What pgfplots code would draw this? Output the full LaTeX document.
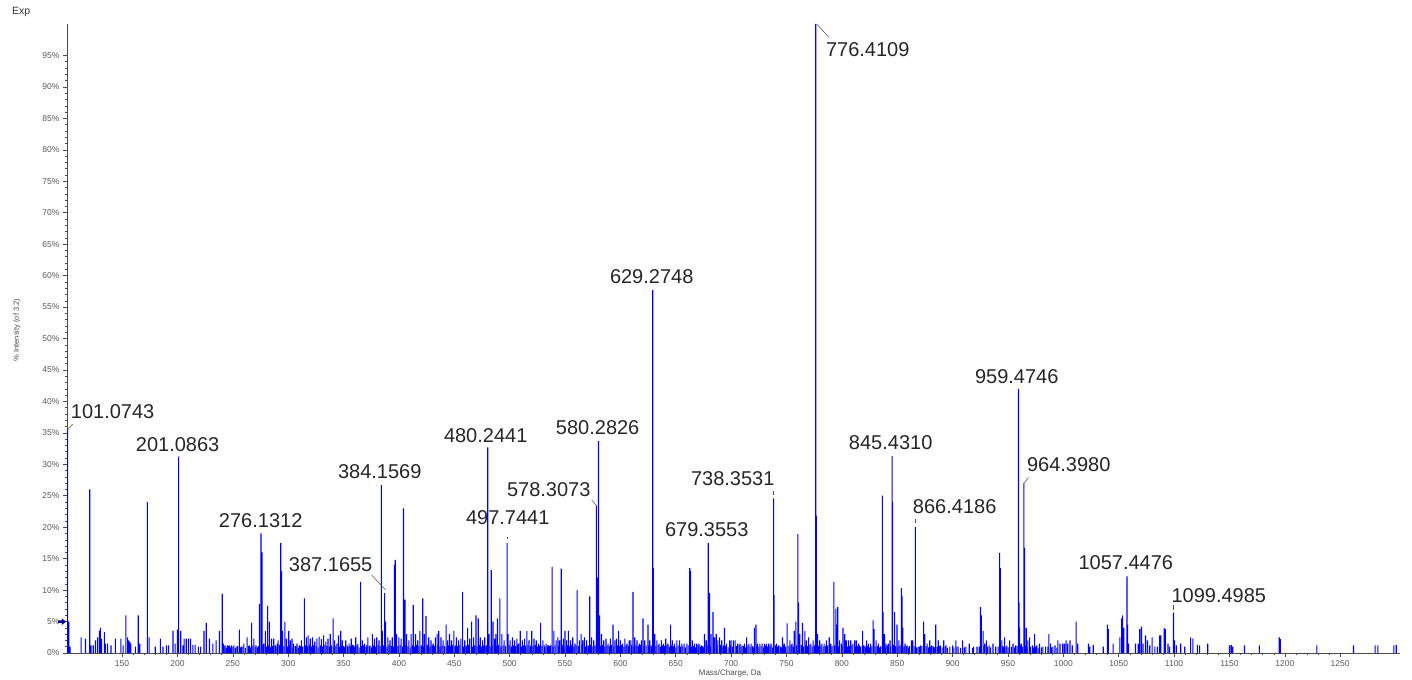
\documentclass[border=0pt]{standalone}
\usepackage{pgfplots}
\pgfplotsset{compat=1.18}
\usepackage{pgfplotstable}
\usepackage{fontspec}
\setmainfont{Liberation Sans}
\definecolor{specblue}{RGB}{0,0,255}
\pgfplotstableread{
m y
100.9 35.5
102 5
103 1
113 2.5
117 2.3
120.8 26
122 1.2
124 1.2
126 2
128 2.5
129.5 3.5
130.5 4
131.5 2.3
134 3.3
135 1.5
137 1.5
140 1.2
144 2.3
149 2.3
151 1.2
153.5 6
155 2.5
156 2
157 1.8
158 1.5
162 1
164.6 6
166 1.5
172.9 24
174.5 2.5
180 1
184.6 2.3
187 1
190 1.2
192 1.2
196 3.5
198 1.5
200 3.7
201.09 31.2
203 3.5
205 1.2
206 2.3
208 2.3
210 2.3
212 2.3
214 1.3
216 1.3
219 1
221 1
224 3.5
226 4.8
229 2.3
232 1.5
235 2
238 3.5
240.5 9.4
241.5 1.5
243 1.2
245 1.2
247 1.2
249 1.2
251 1.2
253 1
256 3.7
258 1
260 1.5
263 2.5
265 1.2
267 4.8
269 2.3
271 1.2
274 7.8
275.5 19
276.4 16
278 1.5
279.5 3.5
281.5 7.5
283 5
285 2.3
287 2.3
288.5 1.2
290 1.5
291 2
293.3 17.5
294 13
295 3.5
297 5
298.5 2.3
300.5 3.5
302 2
303.5 2.3
305 1.5
308 1.5
310 1.2
312 2
314.6 8.7
316.5 2.5
318 2.8
320 2.3
322 2.5
324 1.8
326 2.3
328 2.6
330 2.2
332 2.8
334 1.8
336 2.3
338 3
340.6 5.5
342 2
344 1.5
345.5 2.8
347.5 3.5
349 2
352 2
355 1.5
357 2.3
359 1.2
361 2.5
363 1.5
365.4 11.3
367 2
369 1.5
372 2.5
374 1.2
376 3
378 2.3
380 2.5
382 2
384.16 26.7
385 3.5
387.17 9.5
388 5
390 2.5
392 2
394 2.5
396 14
396.7 14.8
398 3
400 2.5
402 2.3
404.2 23
405.5 8.5
407 3
409 2
411 3
413 7.6
415 3
417 2
419 3.5
421.5 8.7
423 3
424.5 5.9
427 2.5
429 2
431 1.5
433 2.5
434.5 3
436 3.5
438 2.5
440 2
442.7 4.5
444 2
445.7 3
447.5 2
449.6 3.5
452 2.5
454 2
456 2.3
457.6 9.7
459.5 2
462 4
464 2.3
465.7 5
467.5 2.5
469.6 6
471.7 5.5
473.5 2.5
475.6 2
477.5 2.5
480.24 32.7
481.5 3
483.4 13.2
485 5
486.5 2.3
487.6 3
489 5.5
491.2 8.7
493 3
495 2
497.74 17.5
498.7 3
500.5 2
502.6 2.5
504.5 2
506.5 2.3
508 1.5
509.6 3.5
511.5 2
513.5 2.3
515.6 3.5
517.5 2
520 3.5
522 2.3
524 2
526 1.5
528 4.8
530 2
533 1.5
535 1.2
538.4 13.7
540 3.5
542 2
543.6 2.5
545 2
546.6 13.4
548.5 2.3
550 3.5
551.5 2
553 3.5
555 2
557 2.5
559 1.5
561 10
563 2
564.6 3
566 2
567.6 2.5
569.5 2
572.3 9
574 2.5
576 2
578.31 23.4
579.2 12
580.28 33.7
581.3 6
583 3
585 2
587 2.3
589 1.5
591 2.3
593.3 4.5
595 2
596.5 2.3
598.4 3.5
600 2
602 1.5
604 2.3
606 1.5
608 2
609.5 2
611.4 9.7
613 2.5
615 2
617 1.5
619 2
620.4 5.5
622 2
624.9 4.5
626.5 2
629.27 57.7
629.8 13.5
631 3
633 2
635 1.5
637 2
639 1.5
641 2.3
643 1.5
645.4 4.5
647 2
649 1.5
651 2
653.5 2
655.5 1.5
657.5 1.5
660 1.5
662.6 13.5
663.5 13
665 2
667 1.5
669 1.5
671 1.5
673 1.2
676 3
677.5 2
679.36 17.5
680.5 9.5
682 3
683.6 6.5
685 2.5
686.6 3
688 2
689.6 2.5
691.5 2
694 4
696 1.5
698.6 2
700 2
702 2
703.6 2
706 1.5
708 1.5
710 1.2
712 1.5
714 2.5
716 1.5
718 1.5
721 4
722.5 4.5
724 1.5
726 1.5
728 1.5
730 1.5
732 1.5
734 1.5
736 1.5
738.35 24.6
738.9 9.2
741 1.5
743 1.2
746.4 2.5
748 1.5
750.6 4.7
753 2
755 1.5
757 3.5
758.5 5
760.3 18.9
760.9 8
762 3
764.5 4.8
766.6 3.5
768 2
770 2.5
772 1.5
774 2
776.41 100
776.9 21.8
778 3
780 2
782 1.5
784 1.5
786 2
788.6 2.5
790 1.5
792.8 11.3
794.6 7
795.5 4.5
796.3 7.3
798 2
799.5 1.5
801 4
802.6 3
804 2
806 2
808 2
810 1.5
811.5 2
813 2
815 1.5
818.7 3.5
820 1.2
822.3 2
824 1.5
826 1.5
828.3 5.2
829.2 3.8
831 2
833 1.5
836.6 25
837.2 6.5
838.5 3
840 1.5
842 1.5
843.5 2
845.43 31.3
845.9 24
847.7 6.5
849.8 4.5
851.5 2
853.7 10.3
854.3 9
855 4
857 1.5
859 1.2
862.8 2
864 2
866.42 20
868.8 1
871 1.2
873.9 5
875 3
877 1.5
879.4 2
881 1.2
884.8 4.5
887 2
889 1.2
892 2
894 1.2
897.5 1
900 1.2
902.9 2
905 1
909 2
912 1
915 1.5
919 1
922 1
925.2 7.3
926 6
927.5 3.5
929 1.5
930.5 2
933 1.2
936.5 1.5
939 1
942.5 15.9
943 13.5
944.5 2
947 2.5
949 1.2
951.5 2
954.5 1.5
957 1.2
959.47 42
960 8
960.5 4
962 1.5
964.40 27
964.9 16.7
966.5 4
968 2
969.5 2.5
972 1.2
974 3
976 1.2
978.5 1.5
981.5 1
984 1
987 3
988.5 1.5
990.5 1
992.5 1.2
995 2
997 1.5
999.5 1.5
1001 1.5
1002.5 2
1004 1.5
1006 2
1008 1.2
1011.5 5
1013 1.5
1022.7 1.5
1024 1
1027 1.3
1036 1
1039.7 4.5
1040.6 3.8
1045 1.5
1051 2.5
1052.6 5.5
1053.5 6
1054.7 4
1057.45 12.2
1057.9 4.5
1059 1.5
1065.2 1.5
1067.6 1.5
1069 3.8
1070.6 4.2
1072 1.5
1074.2 2.8
1076 2
1078 1.2
1080.2 2.5
1082.6 1
1085 1
1087 2.8
1088 2.8
1091 4
1092 3.8
1094.5 1.5
1096 1
1099.50 6.4
1100.5 2
1102 1.2
1106 1.5
1109.6 1
1115 2.5
1117 2.3
1121 1.3
1123 1.2
1130.4 1.5
1150 1.2
1151.6 1.3
1153 1
1163.6 1.2
1177 1.2
1195 2.5
1196 2.2
1229 1.2
1262 1.2
1281.6 1.2
1284 1.2
1298.5 1.2
1300.6 1.3
}\peaks
\begin{document}
\begin{tikzpicture}
\useasboundingbox (-67bp,-27bp) rectangle (1345bp,653bp);
\begin{axis}[
  at={(0,0)}, anchor=south west,
  width=1333bp, height=629bp, scale only axis,
  xmin=100.3, xmax=1304, ymin=0, ymax=100,
  axis x line*=bottom, axis y line*=left,
  axis line style={draw=black!70, line width=0.6bp},
  xtick={150,200,...,1250}, ytick={0,5,...,95},
  minor x tick num=4, minor y tick num=4,
  tick align=outside, major tick length=4bp, minor tick length=2bp,
  tick style={draw=black!70, line width=0.5bp},
  ticklabel style={font=\fontsize{8.5bp}{10bp}\selectfont, text=black!65},
  /pgf/number format/assume math mode=true,
  /pgf/number format/1000 sep={},
  yticklabel={\pgfmathprintnumber{\tick}\%},
  clip=false,
  ybar, bar width=1.1bp, bar shift=0pt,
]
% dense low-level baseline
\addplot[ybar, fill=specblue, draw=none, bar width=1.1bp, bar shift=0pt] coordinates {
(242.2,1.0) (244.1,0.8) (246.3,1.1) (248.2,0.9) (250.1,1.0) (252.2,0.8) (254.5,1.1) (257.2,0.9) (259.1,1.0) (261.4,0.8)
(264.1,1.1) (266.2,0.9) (268.1,1.2) (270.2,1.0) (272.3,0.9) (273.2,1.1) (277.2,1.3) (280.3,1.0) (282.3,1.2) (284.1,0.9)
(286.1,1.1) (289.2,1.0) (292.2,1.3) (296.2,1.1) (299.4,1.0) (301.2,1.2) (304.2,0.9) (306.4,1.1) (307.2,1.0) (309.2,0.8)
(311.1,1.1) (313.2,1.0) (315.4,1.2) (317.3,1.1) (319.2,1.3) (321.2,1.0) (323.1,1.2) (325.2,1.1) (327.1,0.9) (329.2,1.2)
(331.1,1.0) (333.2,1.3) (335.1,1.1) (337.2,1.0) (339.3,1.2) (341.4,0.9) (343.1,1.1) (346.4,1.0) (348.2,1.2) (350.2,1.1)
(351.2,0.9) (353.2,1.2) (354.2,1.0) (356.1,1.1) (358.2,1.3) (360.1,1.0) (362.2,1.2) (364.1,0.9) (366.2,1.1) (368.2,1.2)
(370.3,1.0) (371.2,1.3) (373.2,1.1) (375.1,0.9) (377.2,1.2) (379.1,1.0) (381.2,1.3) (383.1,1.1) (386.2,1.2) (389.1,1.0)
(391.1,1.3) (393.1,1.1) (395.1,1.0) (397.5,1.2) (399.2,1.1) (401.1,1.3) (403.1,1.0) (406.4,1.2) (408.1,1.1) (410.1,0.9)
(412.1,1.2) (414.1,1.0) (416.1,1.3) (418.1,1.1) (420.2,1.2) (422.3,1.0) (425.6,1.3) (426.2,1.1) (428.1,1.0) (430.1,1.2)
(432.1,1.1) (435.3,1.3) (437.1,1.0) (439.1,1.2) (441.2,1.1) (443.4,0.9) (445.0,1.2) (446.6,1.1) (448.5,1.3) (450.7,1.0)
(451.2,1.2) (453.1,1.1) (455.1,1.3) (458.6,1.0) (460.5,1.2) (461.2,1.1) (463.1,1.3) (466.6,1.0) (468.5,1.2) (470.6,1.1)
(472.6,1.3) (474.5,1.0) (476.6,1.2) (478.6,1.1) (479.4,1.3) (482.4,1.0) (484.2,1.2) (488.3,1.1) (490.1,1.3) (492.2,1.0)
(494.1,1.2) (496.1,1.1) (499.6,1.3) (501.5,1.0) (503.5,1.2) (505.5,1.1) (507.2,1.3) (510.5,1.0) (512.5,1.2) (514.5,1.1)
(516.5,1.3) (518.5,1.0) (519.2,1.2) (521.1,1.1) (523.1,1.3) (525.1,1.0) (527.1,1.2) (529.1,1.1) (531.1,1.3) (532.1,1.0)
(534.1,1.2) (536.1,1.1) (537.2,1.3) (539.2,1.0) (541.1,1.2) (544.3,1.1) (547.5,1.3) (549.2,1.0) (552.3,1.2) (554.1,1.1)
(556.1,1.3) (558.1,1.0) (560.1,1.2) (562.1,1.1) (565.3,1.3) (568.5,1.0) (570.6,1.2) (571.3,1.1) (573.2,1.3) (575.1,1.0)
(577.1,1.2) (582.1,1.1) (584.1,1.3) (586.1,1.0) (588.1,1.2) (590.1,1.1) (592.1,1.3) (594.1,1.0) (597.4,1.2) (599.2,1.1)
(601.1,1.3) (603.1,1.0) (605.1,1.2) (607.1,1.1) (610.3,1.3) (612.2,1.0) (614.1,1.2) (616.1,1.1) (618.1,1.3) (621.2,1.0)
(623.2,1.2) (625.6,1.1) (627.5,1.3) (628.2,1.0) (630.4,1.2) (632.1,1.1) (634.1,1.3) (636.1,1.0) (638.1,1.2) (640.1,1.1)
(642.1,1.3) (644.2,1.0) (646.2,1.2) (648.1,1.1) (650.1,0.9) (652.2,1.2) (654.5,1.0) (656.5,1.1) (658.6,0.9) (661.2,1.2)
(664.3,1.0) (666.1,1.1) (668.1,0.9) (670.1,1.2) (672.1,1.0) (674.2,1.1) (675.1,0.9) (678.2,1.3) (681.3,1.0) (684.4,1.2)
(687.3,1.1) (690.6,1.3) (692.5,1.0) (693.2,1.2) (695.1,1.1) (697.3,0.9) (699.3,1.2) (701.1,1.0) (704.6,1.1) (705.3,0.9)
(707.2,1.2) (709.1,1.0) (711.1,1.1) (713.1,0.9) (715.1,1.2) (717.1,1.0) (719.2,1.1) (720.1,0.9) (723.4,1.2) (725.1,1.0)
(727.1,1.1) (729.1,0.9) (731.1,1.2) (733.1,1.0) (735.1,1.1) (737.2,0.9) (740.1,1.2) (742.1,1.0) (744.2,1.1) (745.3,0.9)
(747.2,1.2) (749.3,1.0) (752.1,1.1) (754.1,1.3) (756.1,1.0) (759.3,1.2) (761.6,1.1) (763.3,1.3) (765.5,1.0) (767.4,1.2)
(769.1,1.1) (771.1,1.3) (773.1,1.0) (775.1,1.2) (777.5,1.3) (779.1,1.1) (781.1,1.2) (783.1,1.0) (785.1,1.1) (787.3,1.2)
(789.3,1.0) (791.1,1.1) (793.6,1.2) (797.2,1.0) (800.2,1.1) (803.3,1.2) (805.1,1.0) (807.1,1.1) (809.1,1.2) (812.3,1.0)
(814.1,1.1) (816.1,1.2) (817.2,1.0) (819.3,1.1) (821.1,1.0) (823.2,1.1) (825.1,0.9) (827.1,1.1) (830.1,1.0) (832.1,1.1)
(834.1,0.9) (835.2,1.1) (839.2,1.0) (841.1,1.2) (844.1,1.0) (846.8,1.3) (848.6,1.1) (850.6,1.0) (852.5,1.2) (856.1,1.0)
(858.1,1.1) (860.1,0.9) (861.2,1.1) (863.4,1.0) (865.2,1.1) (867.6,0.9) (870.1,1.0) (872.3,1.1) (874.5,1.0) (876.1,1.1)
(878.2,0.9) (880.2,1.0) (882.3,1.1) (883.5,0.9) (886.1,1.0) (888.1,1.1) (890.5,0.9) (893.2,1.0) (895.5,0.8) (901.2,0.9)
(903.8,1.0) (907.2,0.8) (910.5,0.9) (918.1,0.8) (924.1,1.0) (928.3,1.1) (931.5,1.0) (934.2,0.9) (941.1,1.0) (945.3,1.1)
(946.1,0.9) (948.2,1.0) (950.2,0.9) (953.1,1.0) (956.1,0.9) (958.3,1.1) (961.2,1.2) (963.2,1.0) (965.7,1.1) (967.2,0.9)
(970.5,1.0) (973.1,0.9) (975.1,1.0) (977.2,0.8) (980.1,0.9) (986.1,1.0) (989.4,0.9) (994.1,0.8)
};
\addplot[ybar, fill=specblue, draw=none, bar width=1.1bp, bar shift=0pt] table[x=m, y=y] {\peaks};
% leaders
\draw[black!70, line width=0.5bp] (axis cs:100.9,35.5) -- (axis cs:105.4,36.4);
\draw[black!70, line width=0.5bp] (axis cs:375.4,12.4) -- (axis cs:388.1,10.0);
\draw[black!70, line width=0.5bp] (axis cs:574.1,24.3) -- (axis cs:578.6,23.4);
\draw[black!70, line width=0.5bp] (axis cs:777.3,100) -- (axis cs:788.2,97.9);
\draw[black!70, line width=0.5bp] (axis cs:964.6,27.0) -- (axis cs:968.6,27.9);
\draw[black!70, line width=0.6bp] (axis cs:497.74,18.1) -- (axis cs:497.74,18.5);
\draw[black!70, line width=0.6bp] (axis cs:738.35,25.1) -- (axis cs:738.35,25.7);
\draw[black!70, line width=0.6bp] (axis cs:866.42,20.6) -- (axis cs:866.42,21.3);
\draw[black!70, line width=0.6bp] (axis cs:1099.50,6.8) -- (axis cs:1099.50,7.6);
% peak labels
\begin{scope}[every node/.style={font=\fontsize{20bp}{24bp}\selectfont, text=black!85, inner sep=0pt}]
\node at (axis cs:141.5,38.3) {101.0743};
\node at (axis cs:200.2,33.2) {201.0863};
\node at (axis cs:275.2,21.0) {276.1312};
\node at (axis cs:382.7,28.8) {384.1569};
\node at (axis cs:338.4,14.0) {387.1655};
\node at (axis cs:478.4,34.5) {480.2441};
\node at (axis cs:498.3,21.6) {497.7441};
\node at (axis cs:535.3,25.9) {578.3073};
\node at (axis cs:579.5,35.8) {580.2826};
\node at (axis cs:628.3,59.8) {629.2748};
\node at (axis cs:678.0,19.6) {679.3553};
\node at (axis cs:701.5,27.8) {738.3531};
\node at (axis cs:823.4,96.0) {776.4109};
\node at (axis cs:844.1,33.5) {845.4310};
\node at (axis cs:901.9,23.2) {866.4186};
\node at (axis cs:957.9,43.9) {959.4746};
\node at (axis cs:1004.9,29.9) {964.3980};
\node at (axis cs:1056.4,14.3) {1057.4476};
\node at (axis cs:1140.4,9.2) {1099.4985};
\end{scope}
\end{axis}
% 5% marker arrow
\fill[blue!60!black] (-1bp,31.3bp) -- (-5bp,34.5bp) -- (-5bp,32.5bp) -- (-9bp,32.5bp) -- (-9bp,30.1bp) -- (-5bp,30.1bp) -- (-5bp,28.1bp) -- cycle;
\node[anchor=west, font=\fontsize{10.5bp}{12bp}\selectfont, text=black!80, inner sep=0pt] at (-55bp,641bp) {Exp};
\node[rotate=90, font=\fontsize{7.5bp}{9bp}\selectfont, text=black!70, inner sep=0pt] at (-50bp,323bp) {\% Intensity (of 3.2)};
\node[font=\fontsize{8bp}{9.5bp}\selectfont, text=black!70, inner sep=0pt] at (663bp,-20bp) {Mass/Charge, Da};
\end{tikzpicture}
\end{document}
